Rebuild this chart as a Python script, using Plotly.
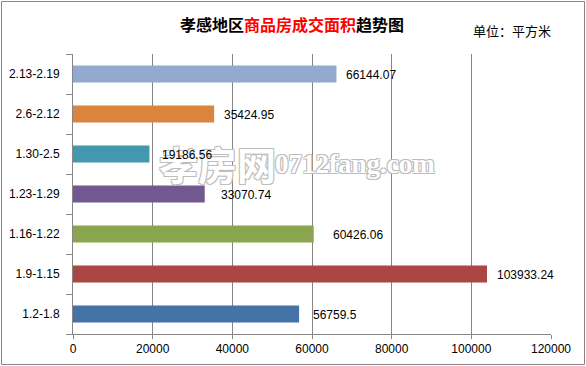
import plotly.graph_objects as go

# ---- data ----
categories = ["1.2-1.8", "1.9-1.15", "1.16-1.22", "1.23-1.29", "1.30-2.5", "2.6-2.12", "2.13-2.19"]
values = [56759.5, 103933.24, 60426.06, 33070.74, 19186.56, 35424.95, 66144.07]
value_labels = ["56759.5", "103933.24", "60426.06", "33070.74", "19186.56", "35424.95", "66144.07"]
x_ticks = [0, 20000, 40000, 60000, 80000, 100000, 120000]

# ---- style ----
bar_colors = ["#4572A7", "#AA4643", "#89A54E", "#71588F", "#4198AF", "#DB843D", "#93A9CF"]
label_shift = [12, 8, 17, 14, 11, 8, 8]

W, H = 586, 366
ML, MR, MT, MB = 73, 35, 54, 32
PW, PH = W - ML - MR, H - MT - MB
grey = "#868686"

fig = go.Figure()
fig.add_trace(go.Bar(
    y=categories, x=values, orientation="h",
    marker=dict(color=bar_colors, line=dict(width=0)),
    hoverinfo="skip",
))

annotations = []
outline = "1px 1px 0 #bdbdbd, -1px -1px 0 #bdbdbd, 1px -1px 0 #bdbdbd, -1px 1px 0 #bdbdbd"
annotations.append(dict(
    x=(217 - ML) / PW, y=(MT + PH - 163) / PH, xref="paper", yref="paper",
    text="孝房网", showarrow=False, xanchor="center", yanchor="middle",
    font=dict(family="Noto Sans CJK SC", size=39, color="#ffffff", weight=700, shadow=outline),
))
annotations.append(dict(
    x=(355 - ML) / PW, y=(MT + PH - 164) / PH, xref="paper", yref="paper",
    text="0712fang.com", showarrow=False, xanchor="center", yanchor="middle",
    font=dict(family="Liberation Serif, DejaVu Serif", size=27, color="#ffffff", weight=700, shadow=outline),
))
for c, v, t, s in zip(categories, values, value_labels, label_shift):
    annotations.append(dict(
        x=v, y=c, xref="x", yref="y", text=t, showarrow=False,
        xanchor="left", yanchor="middle", xshift=s, yshift=-1,
        font=dict(family="Liberation Sans, Arial", size=12, color="#000000"),
    ))
annotations.append(dict(
    x=(512 - ML) / PW, y=(MT + PH - 30) / PH, xref="paper", yref="paper",
    text="单位：平方米", showarrow=False, xanchor="center", yanchor="middle",
    font=dict(family="Noto Sans CJK SC", size=13, color="#000000"),
))

fig.update_layout(
    width=W, height=H,
    margin=dict(l=ML, r=MR, t=MT, b=MB, pad=0),
    paper_bgcolor="#ffffff", plot_bgcolor="#ffffff",
    showlegend=False,
    bargap=0.575,
    title=dict(
        text="孝感地区<span style='color:#ff0000'>商品房成交面积</span>趋势图",
        x=292 / W, xanchor="center", y=1 - 25 / H, yanchor="middle",
        font=dict(family="Noto Sans CJK SC", size=16, color="#000000", weight=700),
    ),
    xaxis=dict(
        range=[0, 120000], tickvals=x_ticks, ticktext=[str(v) for v in x_ticks],
        showgrid=True, gridcolor=grey, gridwidth=1,
        showline=True, linecolor=grey, linewidth=1,
        ticks="outside", ticklen=4, tickcolor=grey,
        tickfont=dict(family="Liberation Sans, Arial", size=12, color="#000000"),
        zeroline=False, fixedrange=True, automargin=False,
    ),
    yaxis=dict(
        type="category", categoryorder="array", categoryarray=categories,
        showgrid=False, showline=True, linecolor=grey, linewidth=1,
        ticks="outside", ticklen=6, tickcolor=grey, tickson="boundaries",
        tickfont=dict(family="Liberation Sans, Arial", size=12, color="#000000"),
        ticklabelstandoff=10,
        fixedrange=True, automargin=False,
    ),
    annotations=annotations,
    shapes=[dict(
        type="rect", xref="paper", yref="paper",
        x0=(1.5 - ML) / PW, x1=(584.5 - ML) / PW,
        y0=(MT + PH - 364.5) / PH, y1=(MT + PH - 1.5) / PH,
        line=dict(color="#878787", width=1), fillcolor="rgba(0,0,0,0)", layer="above",
    )],
)

fig.write_html(
    "out.html",
    config={"displayModeBar": False},
    post_script="document.body.style.margin='0';document.body.style.overflow='hidden';",
)
